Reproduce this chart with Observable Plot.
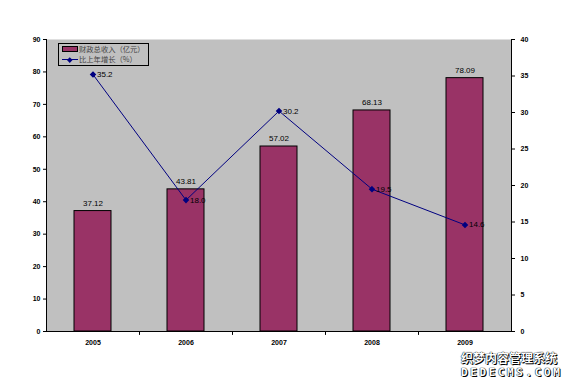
<!DOCTYPE html>
<html>
<head>
<meta charset="utf-8">
<script src="https://cdn.jsdelivr.net/npm/d3@7"></script>
<script src="https://cdn.jsdelivr.net/npm/@observablehq/plot@0.6"></script>
<style>
  html, body { margin: 0; padding: 0; background: #fff; }
  #wrap { position: relative; width: 571px; height: 387px; overflow: hidden; }
  #legend {
    position: absolute; left: 58px; top: 43px; width: 89px; height: 21px;
    border: 1px solid #000; background: #c0c0c0;
    font: 7.3px "Noto Sans CJK SC", sans-serif; color: #444; line-height: 10px;
  }
  #legend .row { position: relative; height: 10px; padding-left: 20px; white-space: nowrap; }
  #legend .sw { position: absolute; left: 3px; top: 2px; width: 16px; height: 6px; background: #993366; border: 1px solid #000; box-sizing: border-box; }
  #legend .ln { position: absolute; left: 3px; top: 5px; width: 16px; height: 1px; background: #000080; }
  #legend .mk { position: absolute; left: 9px; top: 3.5px; width: 3.5px; height: 3.5px; background: #000080; transform: rotate(45deg); }
  #wm { position: absolute; left: 461px; top: 351px; font: bold 12px "Noto Sans CJK SC", sans-serif; color: #fff;
        text-shadow: 0 0 1px #000, 0 0 1px #000, 1px 1px 0 #000; line-height: 13px; }
  #wm .en { letter-spacing: 2.6px; font: bold 11px "DejaVu Sans Mono", monospace; }
</style>
</head>
<body>
<div id="wrap"></div>
<script>
const years = ["2005", "2006", "2007", "2008", "2009"];
const revenue = [37.12, 43.81, 57.02, 68.13, 78.09];
const growth = [35.2, 18.0, 30.2, 19.5, 14.6];
const growthLabels = ["35.2", "18.0", "30.2", "19.5", "14.6"];
const leftTicks = [0, 10, 20, 30, 40, 50, 60, 70, 80, 90];
const rightTicks = [0, 5, 10, 15, 20, 25, 30, 35, 40];
const seriesNames = ["财政总收入（亿元）", "比上年增长（%）"];

const k = 90 / 40; // right axis to left axis
const data = years.map((y, i) => ({year: y, revenue: revenue[i], growth: growth[i], gl: growthLabels[i]}));
const bounds = years.slice(0, -1);

const chart = Plot.plot({
  width: 571,
  height: 387,
  marginLeft: 46,
  marginRight: 60,
  marginTop: 39,
  marginBottom: 56,
  style: {fontFamily: "'Liberation Sans', Arial, sans-serif", background: "transparent"},
  x: {domain: years, paddingInner: 0.6, paddingOuter: 0.3},
  y: {domain: [0, 90]},
  marks: [
    Plot.frame({fill: "#c0c0c0", stroke: null}),
    Plot.barY(data, {x: "year", y: "revenue", fill: "#993366", stroke: "#000", strokeWidth: 1}),
    Plot.text(data, {x: "year", y: "revenue", text: d => d.revenue.toFixed(2), dy: -8, fontSize: 8, fill: "#000"}),
    Plot.line(data, {x: "year", y: d => d.growth * k, stroke: "#000080", strokeWidth: 1}),
    Plot.dot(data, {x: "year", y: d => d.growth * k, symbol: "diamond2", r: 2, fill: "#000080", stroke: "#000080"}),
    Plot.text(data, {x: "year", y: d => d.growth * k, text: "gl", dx: 4, textAnchor: "start", fontSize: 8, fill: "#000"}),
    Plot.frame({anchor: "left", stroke: "#000"}),
    Plot.frame({anchor: "right", stroke: "#000"}),
    Plot.ruleY([0], {stroke: "#000"}),
    Plot.ruleX(bounds, {x: d => d, y1: 0, y2: -1.2, dx: 46.5, stroke: "#000"}),
    Plot.axisY({anchor: "left", ticks: leftTicks, tickSize: 3, tickPadding: 3, fontSize: 7, fontWeight: "bold", label: null}),
    Plot.axisY({anchor: "right", ticks: rightTicks.map(v => v * k), tickFormat: v => Math.round(v / k), tickSize: 3, tickPadding: 6, fontSize: 7, fontWeight: "bold", label: null}),
    Plot.axisX({tickSize: 0, tickPadding: 9, fontSize: 7, fontWeight: "bold", label: null})
  ]
});

const wrap = document.getElementById("wrap");
wrap.appendChild(chart);

const legend = document.createElement("div");
legend.id = "legend";
legend.innerHTML = `<div class="row"><span class="sw"></span>${seriesNames[0]}</div>` +
  `<div class="row"><span class="ln"></span><span class="mk"></span>${seriesNames[1]}</div>`;
wrap.appendChild(legend);

const wm = document.createElement("div");
wm.id = "wm";
wm.innerHTML = `织梦内容管理系统<br><span class="en">DEDECMS.COM</span>`;
wrap.appendChild(wm);
</script>
</body>
</html>
